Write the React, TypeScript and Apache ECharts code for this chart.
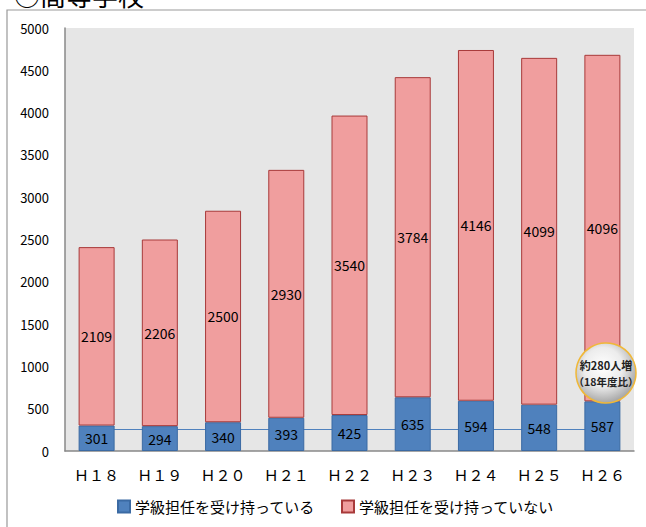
import React, { useEffect, useRef } from "react";
import * as echarts from "echarts";

const categories = ["Ｈ１８", "Ｈ１９", "Ｈ２０", "Ｈ２１", "Ｈ２２", "Ｈ２３", "Ｈ２４", "Ｈ２５", "Ｈ２６"];
const homeroomValues = [301, 294, 340, 393, 425, 635, 594, 548, 587];
const nonHomeroomValues = [2109, 2206, 2500, 2930, 3540, 3784, 4146, 4099, 4096];
const seriesNames = ["学級担任を受け持っている", "学級担任を受け持っていない"];
const baselineValue = 260;
const FONT = "'Noto Sans CJK JP', 'Noto Sans', sans-serif";

export default function App() {
  const ref = useRef<HTMLDivElement>(null);

  useEffect(() => {
    if (!ref.current) return;
    const chart = echarts.init(ref.current, undefined, { renderer: "svg" });
    const badgeZ = 100;
    chart.setOption({
      animation: false,
      backgroundColor: "#ffffff",
      textStyle: { fontFamily: FONT },
      grid: { left: 65, right: 12, top: 28, bottom: 76, show: true, backgroundColor: "#e6e6e6", borderWidth: 0 },
      legend: {
        bottom: 8,
        left: 112,
        itemWidth: 12,
        itemHeight: 12,
        itemGap: 26,
        icon: "rect",
        textStyle: { fontSize: 15, color: "#000", fontFamily: FONT },
        data: seriesNames,
      },
      xAxis: {
        type: "category",
        data: categories,
        axisLine: { lineStyle: { color: "#888", width: 1.5 } },
        axisTick: { show: false },
        axisLabel: { fontSize: 15, color: "#000", margin: 16, fontFamily: FONT },
      },
      yAxis: {
        type: "value",
        min: 0,
        max: 5000,
        interval: 500,
        splitLine: { show: false },
        axisLine: { show: true, lineStyle: { color: "#888", width: 1.5 } },
        axisTick: { show: false },
        axisLabel: {
          fontSize: 13,
          color: "#000",
          margin: 16,
          fontFamily: FONT,
          formatter: (v: number) => String(v),
        },
      },
      graphic: [
        {
          type: "text",
          left: 14,
          top: -19,
          style: { text: "○高等学校", font: `26px ${FONT}`, fill: "#000" },
        },
        {
          type: "rect",
          shape: { x: 7, y: 10, width: 700, height: 600 },
          style: { fill: "none", stroke: "#999", lineWidth: 1.2 },
          silent: true,
          z: -10,
        },
        {
          type: "circle",
          z: badgeZ,
          shape: { cx: 606, cy: 373, r: 30 },
          style: {
            fill: {
              type: "radial",
              x: 0.45,
              y: 0.4,
              r: 0.65,
              colorStops: [
                { offset: 0, color: "#ffffff" },
                { offset: 0.5, color: "#ececec" },
                { offset: 1, color: "#9a9a9a" },
              ],
            },
            stroke: "#f0b838",
            lineWidth: 1.5,
          },
        },
        {
          type: "text",
          z: badgeZ + 1,
          x: 606,
          y: 365,
          style: {
            text: "約280人増",
            font: `bold 11px ${FONT}`,
            fill: "#222",
            align: "center",
            verticalAlign: "middle",
          },
        },
        {
          type: "text",
          z: badgeZ + 1,
          x: 606,
          y: 381,
          style: {
            text: "（18年度比）",
            font: `bold 10.5px ${FONT}`,
            fill: "#222",
            align: "center",
            verticalAlign: "middle",
          },
        },
      ],
      series: [
        {
          type: "line",
          data: [],
          z: 1,
          silent: true,
          markLine: {
            z: 1,
            symbol: "none",
            silent: true,
            label: { show: false },
            lineStyle: { color: "#4f81bd", width: 1.2, type: "solid" },
            data: [[{ coord: [categories[0], baselineValue] }, { coord: [categories[categories.length - 1], baselineValue] }]],
          },
        },
        {
          name: seriesNames[0],
          type: "bar",
          stack: "total",
          barWidth: 36,
          z: 3,
          data: homeroomValues,
          itemStyle: { color: "#4f81bd", borderColor: "#3b6aa3", borderWidth: 1 },
          label: { show: true, position: "inside", fontSize: 14, color: "#000", fontFamily: FONT },
        },
        {
          name: seriesNames[1],
          type: "bar",
          stack: "total",
          barWidth: 36,
          z: 3,
          data: nonHomeroomValues,
          itemStyle: { color: "#f09e9e", borderColor: "#a83a3a", borderWidth: 1 },
          label: { show: true, position: "inside", fontSize: 14, color: "#000", fontFamily: FONT },
        },
      ],
    });
    return () => chart.dispose();
  }, []);

  return (
    <div style={{ position: "fixed", left: 0, top: 0, width: 646, height: 527 }}>
      <div ref={ref} style={{ width: 646, height: 527 }} />
    </div>
  );
}
